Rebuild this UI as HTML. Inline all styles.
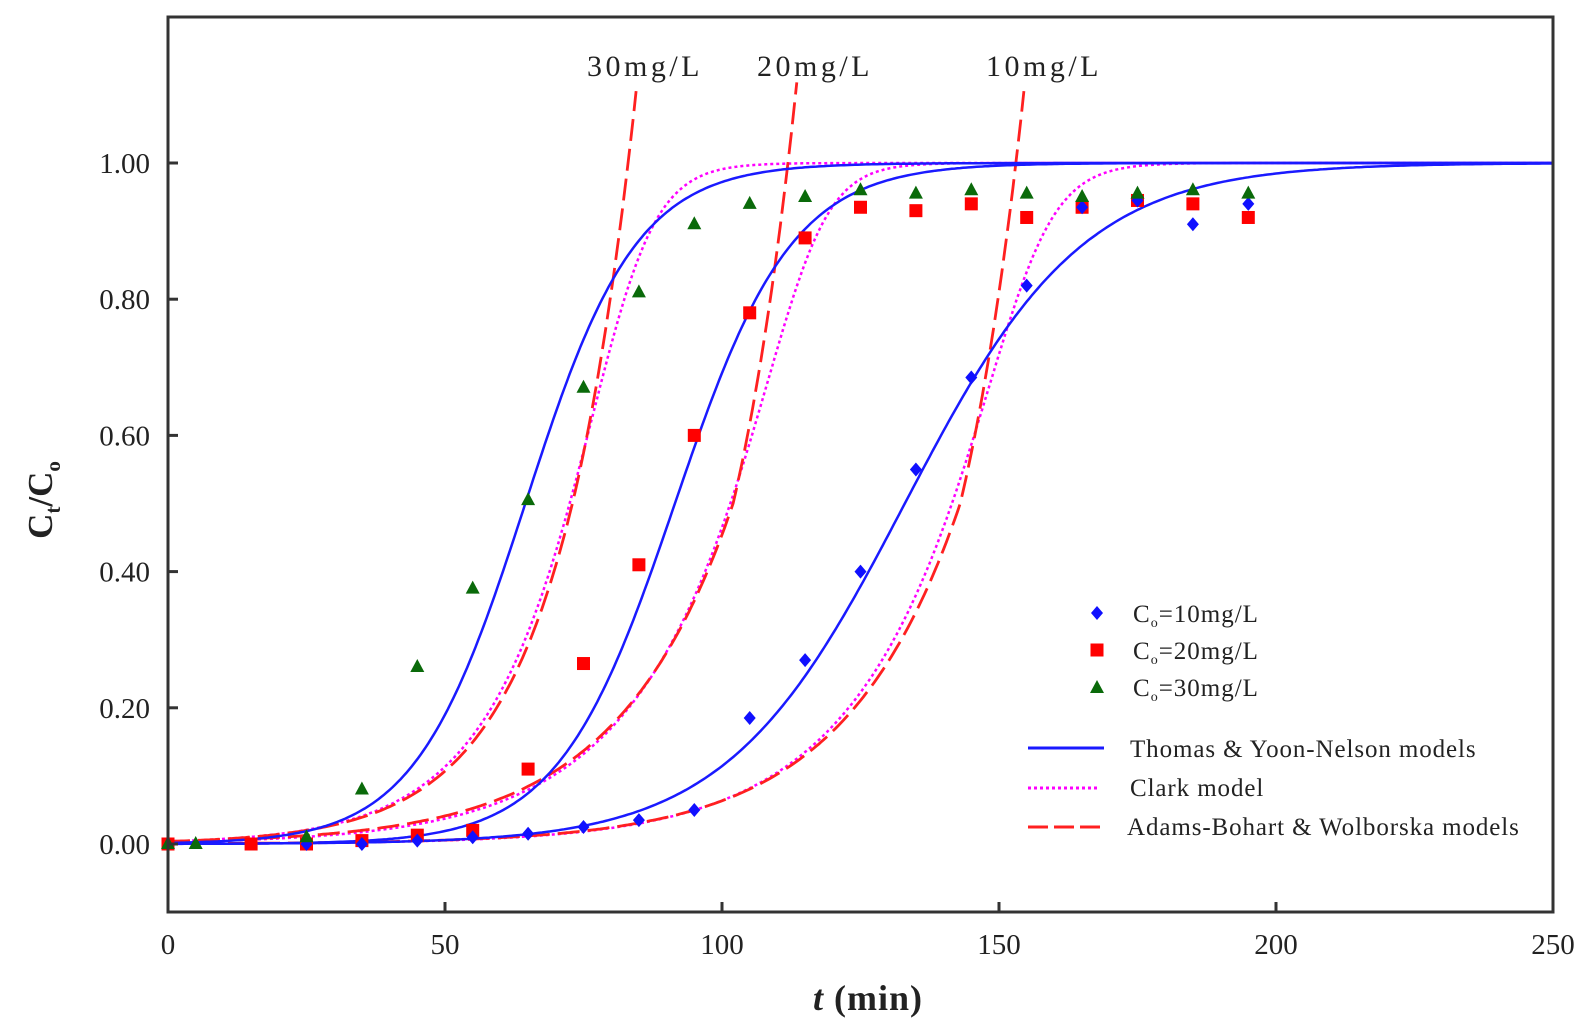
<!DOCTYPE html>
<html><head><meta charset="utf-8"><style>
html,body{margin:0;padding:0;background:#fff;}
svg{display:block;}
text{font-family:"Liberation Serif",serif;fill:#222;}
</style></head><body>
<svg id="s" width="1592" height="1027" xmlns="http://www.w3.org/2000/svg"></svg>
<script>
const X=t=>168+5.54*t, Y=v=>844-681*v;
const s=document.getElementById('s');
let h='';
h+='<defs><clipPath id="c"><rect x="168" y="17" width="1385" height="895"/></clipPath></defs>';
function path(f,t0,t1,stroke,w,dash,vmax){let d='';for(let t=t0;t<=t1;t+=0.5){const v=f(t);if(v>vmax)break;d+=(d?'L':'M')+X(t).toFixed(1)+','+Y(v).toFixed(1);}
 return `<path d="${d}" fill="none" stroke="${stroke}" stroke-width="${w}" ${dash?'stroke-dasharray="'+dash+'"':''} clip-path="url(#c)"/>`;}
const logi=(k,t0)=>t=>1/(1+Math.exp(-k*(t-t0)));
const clark=(r,p,t0)=>{const A=(Math.pow(0.5,-1/p)-1)*Math.exp(r*t0);return t=>Math.pow(1+A*Math.exp(-r*t),-p);};
const adams=(k1,k2,th)=>t=>t>=th?0.5*Math.exp(k1*(t-th)):0.5*Math.exp(k2*(t-th));
[[0.2,0.34,72.5],[0.22,0.23,101.5],[0.2,0.25,141.5]].forEach(a=>h+=path(clark(...a),0,250,'#ff00ff',2.5,'3 3',2));
[[0.069,0.067,73],[0.07,0.048,102],[0.069,0.048,143]].forEach(a=>h+=path(adams(...a),0,250,'#ff2020',2.8,'22 8',1.13));
[[0.1,64.5],[0.095,91.5],[0.062,133]].forEach(a=>h+=path(logi(...a),0,250,'#1a1aff',2.5,'',2));
const g=[[0,0],[5,0],[25,0.01],[35,0.08],[45,0.26],[55,0.375],[65,0.505],[75,0.67],[85,0.81],[95,0.91],[105,0.94],[115,0.95],[125,0.96],[135,0.955],[145,0.96],[155,0.955],[165,0.95],[175,0.955],[185,0.96],[195,0.955]];
const r=[[0,0],[15,0],[25,0],[35,0.005],[45,0.013],[55,0.02],[65,0.11],[75,0.265],[85,0.41],[95,0.6],[105,0.78],[115,0.89],[125,0.935],[135,0.93],[145,0.94],[155,0.92],[165,0.935],[175,0.945],[185,0.94],[195,0.92]];
const b=[[25,0],[35,0],[45,0.005],[55,0.01],[65,0.015],[75,0.025],[85,0.035],[95,0.05],[105,0.185],[115,0.27],[125,0.4],[135,0.55],[145,0.685],[155,0.82],[165,0.935],[175,0.945],[185,0.91],[195,0.94]];
const dia=(x,y)=>`<path d="M${x},${y-7}L${x+6},${y}L${x},${y+7}L${x-6},${y}Z" fill="#1010ff"/>`;
const sq=(x,y)=>`<rect x="${x-6.5}" y="${y-6.5}" width="13" height="13" fill="#ff0000"/>`;
const tri=(x,y)=>`<path d="M${x},${y-8}L${x+7},${y+5}L${x-7},${y+5}Z" fill="#0a6a0a"/>`;
r.forEach(p=>h+=sq(X(p[0]),Y(p[1])));
b.forEach(p=>h+=dia(X(p[0]),Y(p[1])));
g.forEach(p=>h+=tri(X(p[0]),Y(p[1])));
h+='<rect x="168" y="17" width="1385" height="895" fill="none" stroke="#333" stroke-width="3"/>';
for(let i=0;i<=5;i++){const y=Y(i*0.2);h+=`<line x1="168" y1="${y}" x2="178" y2="${y}" stroke="#333" stroke-width="3"/><text x="150" y="${y+10}" font-size="29" text-anchor="end">${(i*0.2).toFixed(2)}</text>`;}
for(let i=0;i<=5;i++){const x=X(i*50);if(i>0&&i<5)h+=`<line x1="${x}" y1="912" x2="${x}" y2="902" stroke="#333" stroke-width="3"/>`;h+=`<text x="${x}" y="954" font-size="29" text-anchor="middle">${i*50}</text>`;}
h+='<text x="868" y="1010" font-size="36" font-weight="bold" text-anchor="middle" letter-spacing="1"><tspan font-style="italic">t</tspan> (min)</text>';
h+='<text transform="translate(52,500) rotate(-90)" font-size="35" font-weight="bold" text-anchor="middle">C<tspan font-size="21" dy="8">t</tspan><tspan dy="-8">/C</tspan><tspan font-size="21" dy="8">o</tspan></text>';
h+='<text x="587" y="76" font-size="30" letter-spacing="3.5">30mg/L</text><text x="757" y="76" font-size="30" letter-spacing="3.5">20mg/L</text><text x="986" y="76" font-size="30" letter-spacing="3.5">10mg/L</text>';
h+=dia(1097,613)+sq(1097,650)+tri(1097,688);
['10','20','30'].forEach((c,i)=>h+=`<text x="1133" y="${622+i*37}" font-size="25" letter-spacing="1">C<tspan font-size="14" dy="5">o</tspan><tspan dy="-5">=${c}mg/L</tspan></text>`);
h+='<line x1="1028" y1="748" x2="1104" y2="748" stroke="#1a1aff" stroke-width="3"/>';
h+='<line x1="1028" y1="788" x2="1100" y2="788" stroke="#ff00ff" stroke-width="3" stroke-dasharray="3 3"/>';
h+='<line x1="1028" y1="827" x2="1104" y2="827" stroke="#ff2020" stroke-width="3" stroke-dasharray="20 6"/>';
['Thomas &amp; Yoon-Nelson models','Clark model','Adams-Bohart &amp; Wolborska models'].forEach((t,i)=>h+=`<text x="${i==2?1127:1130}" y="${757+i*39}" font-size="25" letter-spacing="0.9">${t}</text>`);
s.innerHTML=h;
</script>
</body></html>
